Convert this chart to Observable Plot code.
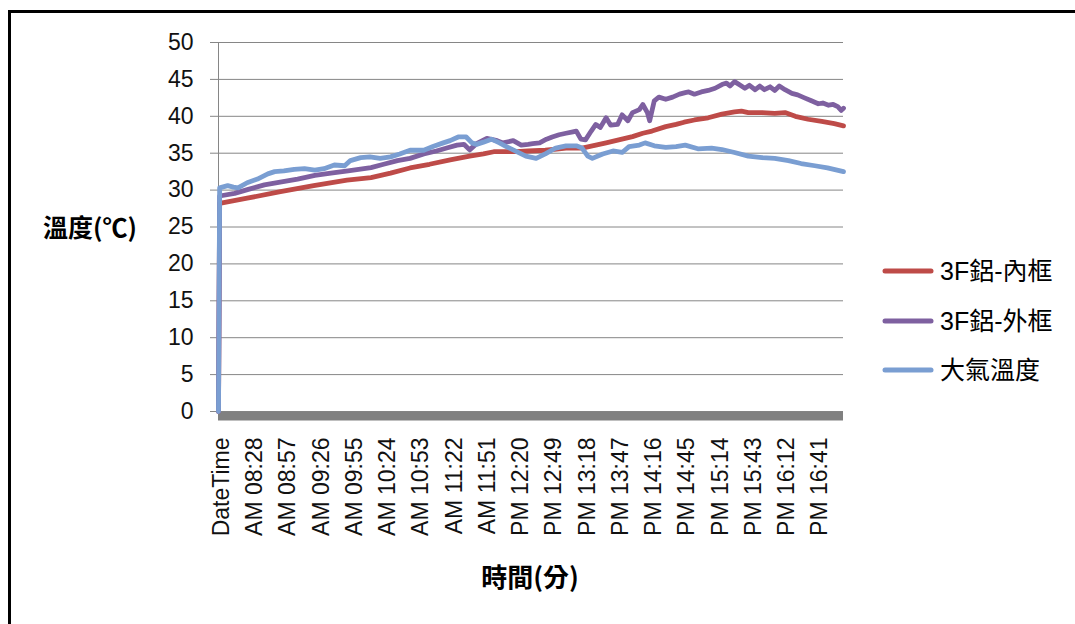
<!DOCTYPE html>
<html><head><meta charset="utf-8">
<script src="https://cdn.jsdelivr.net/npm/d3@7"></script>
<script src="https://cdn.jsdelivr.net/npm/@observablehq/plot@0.6"></script>
<style>
html,body{margin:0;padding:0;background:#fff;}
#wrap{position:relative;width:1075px;height:624px;overflow:hidden;}
#frame{position:absolute;left:8px;top:10px;width:1200px;height:800px;border:3px solid #000;box-sizing:border-box;pointer-events:none;}
#wrap svg{position:absolute;left:0;top:0;}
</style></head><body><div id="wrap"><div id="frame"></div></div>
<script>
// ---- data ----
const xTickMinutes = [0,29,58,87,116,145,174,203,232,261,290,319,348,377,406,435,464,493,522];
const xTickLabels = ["DateTime","AM 08:28","AM 08:57","AM 09:26","AM 09:55","AM 10:24","AM 10:53","AM 11:22","AM 11:51","PM 12:20","PM 12:49","PM 13:18","PM 13:47","PM 14:16","PM 14:45","PM 15:14","PM 15:43","PM 16:12","PM 16:41"];
const yTicks = [0,5,10,15,20,25,30,35,40,45,50];
const seriesNames = ["3F鋁-內框","3F鋁-外框","大氣溫度"];
const seriesColors = ["#BE4B48","#7E60A0","#7A9ED2"];

const innerMin  = [0,1,25,54,83,112,133,150,167,184,202,219,231,240,248,260,270,285,303,317,326,338,349,361,370,378,390,399,406,415,427,439,450,456,462,474,485,494,503,514,526,537,545];
const innerTemp = [0,28.2,28.9,29.8,30.6,31.35,31.7,32.3,33.0,33.5,34.1,34.6,34.9,35.2,35.2,35.2,35.3,35.4,35.7,35.7,36.0,36.4,36.8,37.25,37.7,38.0,38.6,38.9,39.2,39.5,39.8,40.3,40.6,40.7,40.5,40.5,40.4,40.5,40.0,39.6,39.3,39.0,38.7];

const outerMin  = [0,1,14,26,40,55,69,84,98,113,133,144,156,167,179,190,199,208,214,219,225,234,243,248,257,264,270,274,280,286,291,297,303,309,312,316,320,325,329,333,338,342,348,352,357,361,367,370,374,376,380,384,390,396,402,407,410,415,421,427,433,439,443,446,450,455,459,463,468,472,476,481,485,489,494,500,505,511,517,523,527,532,536,540,543,545];
const outerTemp = [0,29.2,29.55,30.1,30.7,31.1,31.5,32.0,32.3,32.6,33.05,33.5,34.0,34.3,34.9,35.3,35.7,36.1,36.2,35.45,36.3,37.0,36.7,36.4,36.7,36.1,36.2,36.3,36.4,36.9,37.2,37.5,37.7,37.9,38.0,36.9,36.8,38.0,38.9,38.5,39.8,38.8,38.9,40.2,39.4,40.5,40.9,41.6,40.5,39.4,42.1,42.6,42.3,42.6,43.0,43.2,43.3,43.0,43.3,43.5,43.8,44.3,44.5,44.1,44.7,44.2,43.8,44.2,43.6,44.1,43.6,44.0,43.5,44.1,43.6,43.1,42.9,42.5,42.1,41.7,41.8,41.5,41.6,41.3,40.8,41.1];

const airMin  = [0,1,8,13,17,25,34,43,49,57,66,75,84,92,101,110,115,124,132,141,150,158,167,179,187,196,202,209,216,221,225,231,238,245,251,260,268,277,285,294,303,312,317,322,326,335,344,352,358,367,372,380,390,399,407,418,430,439,450,462,474,485,497,508,520,531,545];
const airTemp = [0,30.3,30.6,30.4,30.3,31.0,31.5,32.2,32.5,32.6,32.8,32.9,32.7,32.9,33.4,33.3,34.0,34.4,34.5,34.3,34.5,34.9,35.4,35.4,35.9,36.4,36.7,37.2,37.2,36.4,36.2,36.5,36.9,36.4,35.9,35.2,34.6,34.3,34.9,35.7,36.0,36.0,35.7,34.6,34.3,34.9,35.3,35.1,35.9,36.1,36.4,36.0,35.8,35.9,36.1,35.6,35.7,35.5,35.1,34.6,34.4,34.3,34.0,33.6,33.3,33.0,32.5];

// ---- build table ----
const rows = [];
[[innerMin, innerTemp],[outerMin, outerTemp],[airMin, airTemp]].forEach(([ms, vs], si) => {
  ms.forEach((m, i) => rows.push({s: seriesNames[si], m, v: vs[i]}));
});
const labelMap = new Map(xTickMinutes.map((m, i) => [m, xTickLabels[i]]));

const FONT = "'Liberation Sans', Arial, 'Noto Sans CJK TC', sans-serif";
const CJK = "'Noto Sans CJK TC', 'Liberation Sans', sans-serif";

const chart = Plot.plot({
  width: 1075, height: 624,
  marginTop: 42, marginBottom: 213, marginLeft: 218, marginRight: 232,
  style: {fontFamily: FONT, fontSize: "23px", color: "#000", background: "transparent", overflow: "visible"},
  x: {domain: [0, 545], axis: null},
  y: {domain: [0, 50], axis: null},
  color: {domain: seriesNames, range: seriesColors},
  marks: [
    Plot.gridY(yTicks, {stroke: "#868686", strokeOpacity: 1, strokeWidth: 1}),
    Plot.ruleX([0], {y1: 0, y2: 50, stroke: "#868686"}),
    Plot.axisY(yTicks, {label: null, tickSize: 8, tickPadding: 17, stroke: "#868686", fill: "#111", fontSize: 23}),
    Plot.ruleY([0], {stroke: "#808080", strokeWidth: 9, dy: 4.5}),
    Plot.axisX(xTickMinutes, {label: null, tickFormat: d => labelMap.get(d), tickRotate: -90, tickSize: 0, tickPadding: 26, dx: 3, fill: "#111", fontSize: 23}),
    Plot.line(rows, {x: "m", y: "v", z: "s", stroke: "s", strokeWidth: 4.8, strokeLinejoin: "round", curve: "linear"})
  ]
});
document.getElementById("wrap").insertBefore(chart, document.getElementById("frame"));

// ---- titles and legend ----
const svg = d3.select(chart);
svg.append("text").attr("x", 43).attr("y", 228).attr("dy", "0.35em").attr("text-anchor", "start")
  .attr("font-family", CJK).attr("font-size", 25).attr("font-weight", "bold").attr("fill", "#000")
  .text("溫度(℃)");
svg.append("text").attr("x", 530).attr("y", 578).attr("dy", "0.35em").attr("text-anchor", "middle")
  .attr("font-family", CJK).attr("font-size", 26).attr("font-weight", "bold").attr("fill", "#000")
  .text("時間(分)");
const legY = [271, 321, 370];
seriesNames.forEach((n, i) => {
  svg.append("line").attr("x1", 885).attr("x2", 931).attr("y1", legY[i]).attr("y2", legY[i])
    .attr("stroke", seriesColors[i]).attr("stroke-width", 5).attr("stroke-linecap", "round");
  svg.append("text").attr("x", 940).attr("y", legY[i]).attr("dy", "0.35em").attr("text-anchor", "start")
    .attr("font-family", FONT).attr("font-size", 25).attr("fill", "#000").text(n);
});
</script>
</body></html>
